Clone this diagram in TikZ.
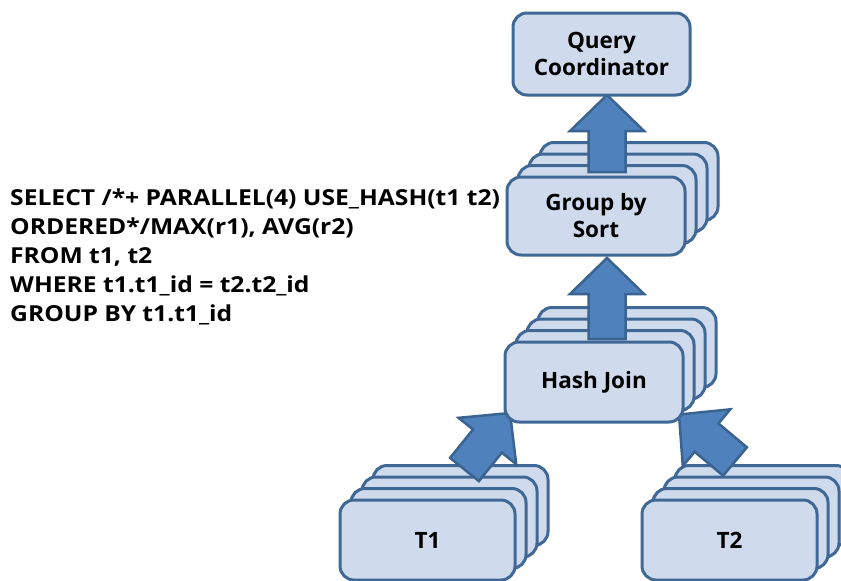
\documentclass[tikz,border=0pt]{standalone}
\usepackage{fontspec}
\setmainfont{Open Sans}
\usetikzlibrary{calc}

\definecolor{boxfill}{HTML}{CFDBEC}
\definecolor{boxline}{HTML}{3F6896}
\definecolor{arrowfill}{HTML}{4F81BD}
\definecolor{arrowline}{HTML}{3A6390}

\pgfdeclarelayer{stackback}
\pgfdeclarelayer{arrows}
\pgfsetlayers{stackback,arrows,main}

\tikzset{
  opbox/.style 2 args={draw=boxline, fill=boxfill, line width=3pt,
    rounded corners=14pt, outer sep=0pt, inner sep=0pt,
    minimum width=#1pt, minimum height=#2pt, align=center,
    font=\bfseries\fontsize{22.5}{27}\selectfont},
  stackbox/.style={draw=boxline, fill=boxfill, line width=3pt, rounded corners=14pt},
  blockarrow/.style={draw=arrowline, fill=arrowfill, line width=2.5pt, line join=miter},
  sqltext/.style={align=left, inner sep=0pt, anchor=base west,
    font=\bfseries\fontsize{22}{29}\selectfont\addfontfeature{FakeStretch=1.12}}
}

% three copies stacked behind a front box, shifted up and to the right
\newcommand\stackbehind[1]{%
  \begin{pgfonlayer}{stackback}
    \foreach \k in {3,2,1}
      \draw[stackbox] ($(#1.south west)+(11*\k,-11.5*\k)$) rectangle ($(#1.north east)+(11*\k,-11.5*\k)$);
  \end{pgfonlayer}}

% wide block arrow from #1 (tail) to #2 (tip)
\newcommand\blockarrow[2]{%
  \begin{pgfonlayer}{arrows}
    \coordinate (ba-base) at ($(#2)!36pt!(#1)$);
    \draw[blockarrow] ($(#1)!18.5pt!90:(#2)$) -- ($(ba-base)!18.5pt!90:(#2)$)
      -- ($(ba-base)!37pt!90:(#2)$) -- (#2) -- ($(ba-base)!37pt!-90:(#2)$)
      -- ($(ba-base)!18.5pt!-90:(#2)$) -- ($(#1)!18.5pt!-90:(#2)$) -- cycle;
  \end{pgfonlayer}}

\begin{document}
\begin{tikzpicture}[x=1pt, y=-1pt]
  \useasboundingbox (0,0) rectangle (841,581);

  % operators
  \node[opbox={177}{82}] (qc)  at (601.5,54) {Query\\Coordinator};
  \node[opbox={178}{78}] (grp) at (596,216)  {Group by\\Sort};
  \node[opbox={178}{80}] (hj)  at (594,382)  {Hash Join};
  \node[opbox={175}{80}] (t1)  at (427.5,540) {T1};
  \node[opbox={175}{80}] (t2)  at (729.5,540) {T2};

  \stackbehind{grp}
  \stackbehind{hj}
  \stackbehind{t1}
  \stackbehind{t2}

  % arrow ends
  \coordinate (qc-in)   at ($(qc.south)+(5.5,0)$);
  \coordinate (grp-out) at ($(grp.north)+(11,-5)$);
  \coordinate (grp-in)  at ($(grp.south)+(11,3)$);
  \coordinate (hj-out)  at ($(hj.north)+(13,-3)$);
  \coordinate (hj-inl)  at ($(hj.south west)+(5,-9)$);
  \coordinate (hj-inr)  at ($(hj.south east)+(-4,-7.5)$);
  \coordinate (t1-out)  at ($(t1.north)+(37,-30.5)$);
  \coordinate (t2-out)  at ($(t2.north)+(5.5,-38.5)$);

  \blockarrow{grp-out}{qc-in}
  \blockarrow{hj-out}{grp-in}
  \blockarrow{t1-out}{hj-inl}
  \blockarrow{t2-out}{hj-inr}

  % query text (anchored at the baseline of its last line)
  \node[sqltext] (sql) at (10,321) {SELECT /*+ PARALLEL(4) USE\_HASH(t1 t2)\\
    ORDERED*/MAX(r1), AVG(r2)\\
    FROM t1, t2\\
    WHERE t1.t1\_id = t2.t2\_id\\
    GROUP BY t1.t1\_id};
\end{tikzpicture}
\end{document}
